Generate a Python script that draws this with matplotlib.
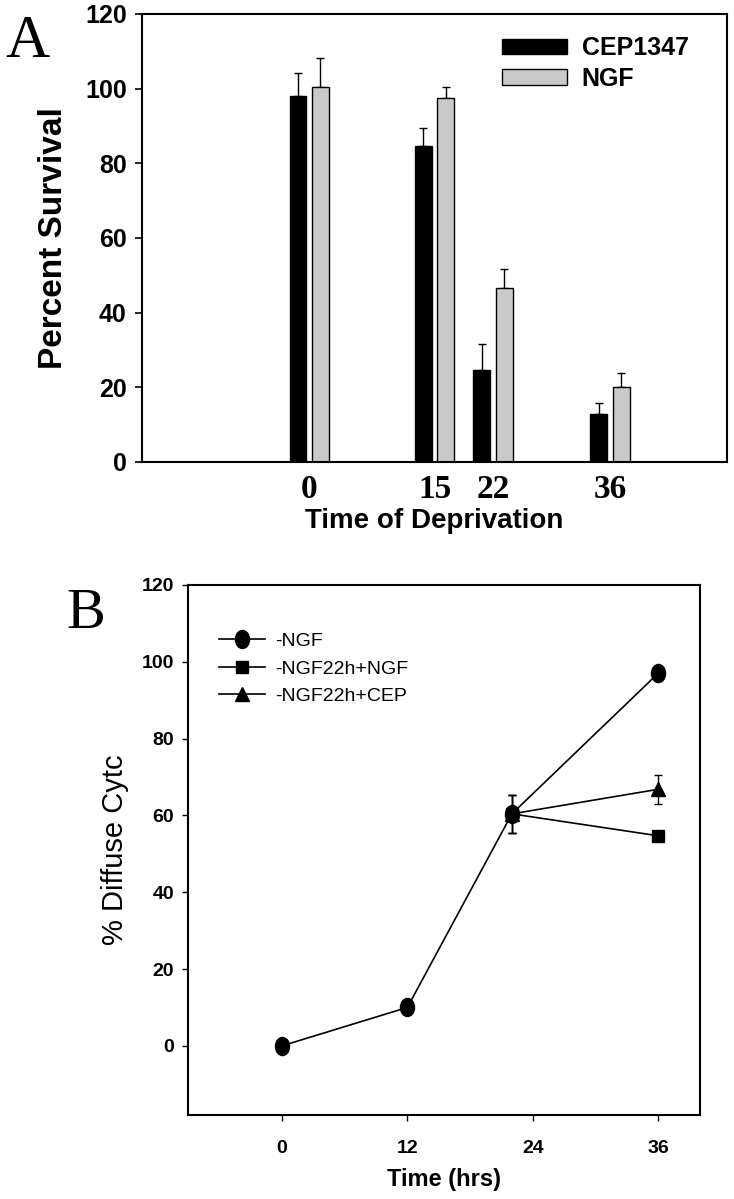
import numpy as np
import matplotlib
matplotlib.use('Agg')
import matplotlib.pyplot as plt
from matplotlib.path import Path
from matplotlib.transforms import Affine2D

# panel A - percent survival after deprivation
hours_a = [0, 15, 22, 36]
cep1347 = [98.1, 84.5, 24.5, 12.8]
cep1347_err = [6.0, 4.9, 7.0, 3.0]
ngf = [100.3, 97.4, 46.5, 20.0]
ngf_err = [8.0, 3.1, 5.2, 3.8]

# panel B - diffuse cyt c
hours_b = [0, 12, 22, 36]
minus_ngf = [0.0, 10.0, 60.4, 97.0]
minus_ngf_err = [0.8, 1.0, 5.0, 2.0]
hours_rescue = [22, 36]
rescue_ngf = [60.4, 54.7]
rescue_ngf_err = [5.0, 1.0]
rescue_cep = [60.4, 66.8]
rescue_cep_err = [5.0, 3.8]

SANS = 'Liberation Sans'
SERIF = 'Liberation Serif'

fig = plt.figure(figsize=(7.34, 11.99), dpi=100)

# ---------------- A ----------------
axA = fig.add_axes([0.1935, 0.6147, 0.797, 0.3737])
x = np.array(hours_a, dtype=float)
w = 2.0
off = 1.35
axA.bar(x - off, cep1347, w, color='black', edgecolor='black', lw=1,
        label='CEP1347', zorder=2)
axA.bar(x + off, ngf, w, color='#c9c9c9', edgecolor='black', lw=1,
        label='NGF', zorder=2)
zeros = np.zeros(len(x))
axA.errorbar(x - off, cep1347, yerr=[zeros, cep1347_err], fmt='none',
             ecolor='black', elinewidth=1, capsize=3, capthick=1, zorder=1)
axA.errorbar(x + off, ngf, yerr=[zeros, ngf_err], fmt='none',
             ecolor='black', elinewidth=1, capsize=3, capthick=1, zorder=1)

axA.set_xlim(-20, 50)
axA.set_ylim(0, 120)
axA.set_yticks(range(0, 121, 20))
axA.set_xticks(hours_a)
axA.set_xticklabels([str(h) for h in hours_a], family=SERIF,
                    fontweight='bold', fontsize=24)
axA.tick_params(axis='x', length=0, pad=9)
axA.tick_params(axis='y', length=5, width=1.2, pad=6, direction='out')
for t in axA.get_yticklabels():
    t.set_family(SANS)
    t.set_fontweight('bold')
    t.set_fontsize(18)
for s in axA.spines.values():
    s.set_linewidth(1.5)
axA.set_xlabel('Time of Deprivation', family=SANS, fontweight='bold',
               fontsize=20, labelpad=2)
axA.set_ylabel('Percent Survival', family=SANS, fontweight='bold',
               fontsize=24)
axA.yaxis.set_label_coords(-0.125, 0.5)
axA.legend(loc='upper left', bbox_to_anchor=(0.615, 0.95), frameon=False,
           borderaxespad=0, borderpad=0, handlelength=2.6, handleheight=0.6,
           handletextpad=0.6, labelspacing=0.25,
           prop={'family': SANS, 'weight': 'bold', 'size': 18})
fig.text(0.008, 0.988, 'A', family=SERIF, fontsize=44, va='top', ha='left')

# ---------------- B ----------------
axB = fig.add_axes([0.2561, 0.0701, 0.6975, 0.442])
ellipse = Path.unit_circle().transformed(Affine2D().scale(0.78, 1.0))
series_b = [
    (hours_b, minus_ngf, minus_ngf_err, ellipse, 13, '-NGF'),
    (hours_rescue, rescue_ngf, rescue_ngf_err, 's', 9, '-NGF22h+NGF'),
    (hours_rescue, rescue_cep, rescue_cep_err, '^', 10, '-NGF22h+CEP'),
]
for xs, ys, es, mk, size, name in series_b:
    axB.errorbar(xs, ys, yerr=es, fmt='none', ecolor='black', elinewidth=1,
                 capsize=3, capthick=1, zorder=2)
    axB.plot(xs, ys, color='black', marker=mk, ms=size, lw=1.2,
             label=name, zorder=3)

axB.set_xlim(-9, 40)
axB.set_ylim(-18, 120)
axB.set_xticks([0, 12, 24, 36])
axB.set_yticks(range(0, 121, 20))
axB.tick_params(axis='both', length=4, width=1, direction='out')
axB.tick_params(axis='x', pad=14)
axB.tick_params(axis='y', pad=6)
for t in axB.get_xticklabels() + axB.get_yticklabels():
    t.set_family(SANS)
    t.set_fontweight('bold')
    t.set_fontsize(14)
for s in axB.spines.values():
    s.set_linewidth(1.5)
axB.set_xlabel('Time (hrs)', family=SANS, fontweight='bold', fontsize=17,
               labelpad=8)
axB.set_ylabel('% Diffuse Cytc', family=SANS, fontsize=21)
axB.yaxis.set_label_coords(-0.115, 0.5)
axB.legend(loc='upper left', bbox_to_anchor=(0.06, 0.91), frameon=False,
           borderaxespad=0, borderpad=0, handlelength=2.4,
           handletextpad=0.5, labelspacing=0.5,
           prop={'family': SANS, 'size': 14})
fig.text(0.09, 0.51, 'B', family=SERIF, fontsize=42, va='top', ha='left')

fig.savefig('out.png', dpi=100)
